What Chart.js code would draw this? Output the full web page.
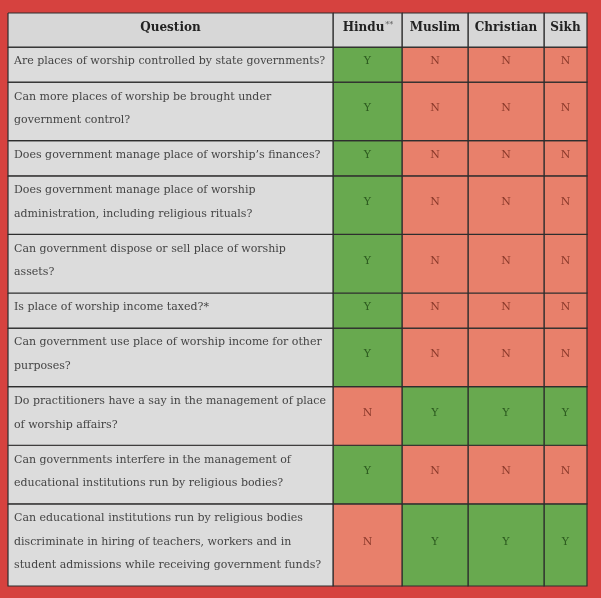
<!DOCTYPE html>
<html>
<head>
<meta charset="utf-8">
<script src="https://cdn.jsdelivr.net/npm/chart.js@4.4.1/dist/chart.umd.min.js"></script>
<style>
  html, body { margin: 0; padding: 0; background: #d6423f; }
  #wrap { width: 601px; height: 598px; }
</style>
</head>
<body>
<div id="wrap"><canvas id="tableChart" width="601" height="598"></canvas></div>
<script>
// Datos de la tabla
const columns = ['Question', 'Hindu', 'Muslim', 'Christian', 'Sikh'];
const questions = [
    ['Are places of worship controlled by state governments?'],
    ['Can more places of worship be brought under', 'government control?'],
    ['Does government manage place of worship\u2019s finances?'],
    ['Does government manage place of worship', 'administration, including religious rituals?'],
    ['Can government dispose or sell place of worship', 'assets?'],
    ['Is place of worship income taxed?*'],
    ['Can government use place of worship income for other', 'purposes?'],
    ['Do practitioners have a say in the management of place', 'of worship affairs?'],
    ['Can governments interfere in the management of', 'educational institutions run by religious bodies?'],
    ['Can educational institutions run by religious bodies', 'discriminate in hiring of teachers, workers and in', 'student admissions while receiving government funds?']
];
const hindu     = ['Y', 'Y', 'Y', 'Y', 'Y', 'Y', 'Y', 'N', 'Y', 'N'];
const muslim    = ['N', 'N', 'N', 'N', 'N', 'N', 'N', 'Y', 'N', 'Y'];
const christian = ['N', 'N', 'N', 'N', 'N', 'N', 'N', 'Y', 'N', 'Y'];
const sikh      = ['N', 'N', 'N', 'N', 'N', 'N', 'N', 'Y', 'N', 'Y'];
const answers = [hindu, muslim, christian, sikh];

// Layout (unidades de las escalas)
const colWidths = [325, 69, 66, 76, 43];
const headerHeight = 34;
const lineHeight = 23.5;
const rowPad = 11.5;

// Colores
const yesColor = '#68a94f';
const noColor = '#e8806b';
const questionBg = '#dcdcdc';
const headerBg = '#d7d7d7';
const lineColor = '#2e2e2e';
const fontFamily = '"DejaVu Serif", "Liberation Serif", serif';

// Límites de columnas y filas
const colEdges = [0];
colWidths.forEach(w => colEdges.push(colEdges[colEdges.length - 1] + w));
const rowEdges = [0, headerHeight];
questions.forEach(q => rowEdges.push(rowEdges[rowEdges.length - 1] + rowPad + q.length * lineHeight));
const totalW = colEdges[colEdges.length - 1];
const totalH = rowEdges[rowEdges.length - 1];

function cell(c, r, color) {
    const x0 = colEdges[c], x1 = colEdges[c + 1];
    const y0 = rowEdges[r], y1 = rowEdges[r + 1];
    return {
        data: [{x: x0, y: y0}, {x: x1, y: y0}, {x: x1, y: y1}, {x: x0, y: y1}, {x: x0, y: y0}],
        backgroundColor: color,
        borderColor: lineColor,
        borderWidth: 1.2,
        fill: 'shape',
        pointRadius: 0,
        tension: 0,
        clip: false
    };
}

const datasets = [];
columns.forEach((name, c) => datasets.push(cell(c, 0, headerBg)));
questions.forEach((q, i) => {
    datasets.push(cell(0, i + 1, questionBg));
    answers.forEach((col, j) => {
        datasets.push(cell(j + 1, i + 1, col[i] === 'Y' ? yesColor : noColor));
    });
});

// Plugin para los textos de las celdas
const cellText = {
    id: 'cellText',
    afterDatasetsDraw(chart) {
        const ctx = chart.ctx;
        const xs = chart.scales.x, ys = chart.scales.y;
        ctx.save();
        ctx.textBaseline = 'middle';

        // Encabezados
        columns.forEach((name, c) => {
            const cx = xs.getPixelForValue((colEdges[c] + colEdges[c + 1]) / 2);
            const cy = ys.getPixelForValue(headerHeight / 2) - 2;
            ctx.fillStyle = '#222';
            ctx.font = 'bold 12px ' + fontFamily;
            if (name === 'Hindu') {
                const w1 = ctx.measureText(name).width;
                ctx.font = '8px ' + fontFamily;
                const w2 = ctx.measureText('**').width;
                const left = cx - (w1 + w2) / 2;
                ctx.textAlign = 'left';
                ctx.font = 'bold 12px ' + fontFamily;
                ctx.fillText(name, left, cy);
                ctx.font = '8px ' + fontFamily;
                ctx.fillStyle = '#555';
                ctx.fillText('**', left + w1 + 1, cy - 3);
            } else {
                ctx.textAlign = 'center';
                ctx.fillText(name, cx, cy);
            }
        });

        // Preguntas
        ctx.textAlign = 'left';
        ctx.font = '11px ' + fontFamily;
        ctx.fillStyle = '#444';
        questions.forEach((lines, i) => {
            const top = rowEdges[i + 1];
            lines.forEach((txt, k) => {
                const y = ys.getPixelForValue(top + 14.5 + k * lineHeight);
                ctx.fillText(txt, xs.getPixelForValue(colEdges[0]) + 6, y);
            });
        });

        // Respuestas Y / N
        ctx.textAlign = 'center';
        ctx.font = '11px ' + fontFamily;
        answers.forEach((col, j) => {
            col.forEach((v, i) => {
                const cx = xs.getPixelForValue((colEdges[j + 1] + colEdges[j + 2]) / 2);
                const cy = ys.getPixelForValue((rowEdges[i + 1] + rowEdges[i + 2]) / 2) - 3;
                ctx.fillStyle = v === 'Y' ? '#2c5a1f' : '#8c3a2c';
                ctx.fillText(v, cx, cy);
            });
        });
        ctx.restore();
    }
};

new Chart(document.getElementById('tableChart'), {
    type: 'line',
    data: { datasets },
    options: {
        responsive: false,
        animation: false,
        events: [],
        layout: { padding: { left: 8, top: 13, right: 14, bottom: 12 } },
        plugins: { legend: { display: false }, tooltip: { enabled: false } },
        scales: {
            x: { type: 'linear', min: 0, max: totalW, display: false },
            y: { type: 'linear', min: 0, max: totalH, reverse: true, display: false }
        }
    },
    plugins: [cellText]
});
</script>
</body>
</html>
